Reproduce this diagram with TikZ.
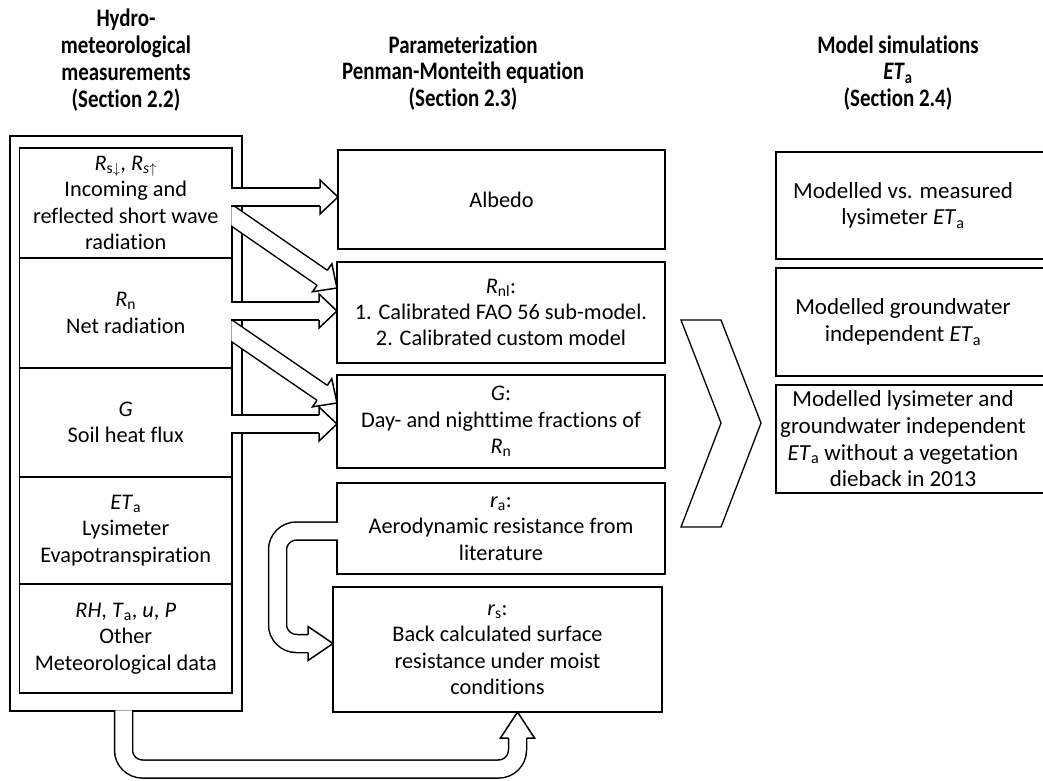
\documentclass[tikz,border=0pt]{standalone}
\usepackage{fontspec}
\usepackage{graphicx}
\setmainfont{Carlito}[RawFeature={-liga;-clig;-dlig;-calt}]
\usetikzlibrary{calc}
\newcommand\bodyfont{\fontsize{22.3}{26.4}\selectfont}
\newcommand\rightfont{\fontsize{23}{26.7}\selectfont}
\newcommand\hdrfont{\fontsize{22.5}{26.8}\selectfont\bfseries\lineskiplimit=-50pt\lineskip=0pt}
\newcommand\hln[1]{\scalebox{0.93}[1.12]{#1}}
\newcommand\va[2]{\textit{#1}\textsubscript{#2}}
\tikzset{
  box/.style={draw, line width=1.5pt, outer sep=0pt, inner sep=0pt, align=center, font=\bodyfont},
  txt/.style={align=center, font=\rightfont, inner sep=0pt, outer sep=0pt},
  hdr/.style={align=center, font=\hdrfont, inner sep=0pt},
  shaft/.style={draw=black, double=white, double distance=16.5pt, line width=1.5pt},
  headst/.style={fill=white, draw=black, line width=1.5pt, line join=miter},
  frame/.style={draw, line width=1.5pt},
}
% fat arrow: #1 tail, #2 tip
\newcommand\fatarr[2]{%
  \draw[shaft] (#1) -- ($(#2)!17pt!(#1)$);
  \filldraw[headst] ($(#2)!18pt!(#1)!9pt!90:(#2)$) -- ($(#2)!18pt!(#1)!17pt!90:(#2)$) -- (#2)
     -- ($(#2)!18pt!(#1)!17pt!-90:(#2)$) -- ($(#2)!18pt!(#1)!9pt!-90:(#2)$);
}
\begin{document}
\begin{tikzpicture}[x=1pt, y=-1pt]
\useasboundingbox (0,0) rectangle (1043,780);
\clip (0,0) rectangle (1043,780);
\fill[white] (0,0) rectangle (1043,780);

% headers
\node[hdr] (hl) at (126,60) {\hln{Hydro-}\\\hln{meteorological}\\\hln{measurements}\\\hln{(Section 2.2)}};
\node[hdr] (hm) at (463,73) {\hln{Parameterization}\\\hln{Penman-Monteith equation}\\\hln{(Section 2.3)}};
\node[hdr] (hr) at (898,73) {\hln{Model simulations}\\\hln{\textit{ET}\textsubscript{a}}\\\hln{(Section 2.4)}};

% left column
\node[box, minimum width=232pt, minimum height=575pt] (outer) at (126,423.5) {};
\node[box, minimum width=212.5pt, minimum height=110pt] (r1) at (125.75,203)
  {\va{R}{s$\downarrow$}, \va{R}{\textit{s}$\uparrow$}\\Incoming and\\reflected short wave\\radiation};
\node[box, minimum width=212.5pt, minimum height=110pt] (r2) at (125.75,313)
  {\va{R}{n}\\Net radiation};
\node[box, minimum width=212.5pt, minimum height=109pt] (r3) at (125.75,422.5)
  {\textit{G}\\Soil heat flux};
\node[box, minimum width=212.5pt, minimum height=107pt] (r4) at (125.75,530.5)
  {\va{ET}{a}\\Lysimeter\\Evapotranspiration};
\node[box, minimum width=212.5pt, minimum height=109pt] (r5) at (125.75,638.5)
  {\textit{RH}, \va{T}{a}, \textit{u}, \textit{P}\\Other\\Meteorological data};

% middle column
\node[box, minimum width=327pt, minimum height=99pt] (alb) at (501.5,199.5) {Albedo};
\node[box, minimum width=328pt, minimum height=101pt] (rnl) at (501,312.5)
  {\va{R}{nl}:\\1. Calibrated FAO 56 sub-model.\\2. Calibrated custom model};
\node[box, minimum width=328pt, minimum height=93pt] (gbx) at (501,421.5)
  {\textit{G}:\\Day- and nighttime fractions of\\\va{R}{n}};
\node[box, minimum width=328pt, minimum height=91pt] (ra) at (501,528.5)
  {\va{r}{a}:\\Aerodynamic resistance from\\literature};
\node[box, minimum width=329pt, minimum height=125pt] (rs) at (497.5,649.5)
  {\va{r}{s}:\\Back calculated surface\\resistance under moist\\conditions};

% right column
\node[txt, minimum width=254pt, minimum height=107pt] (m1) at (903,205.5)
  {Modelled vs. measured\\lysimeter \va{ET}{a}};
\node[txt, minimum width=254pt, minimum height=108pt] (m2) at (903,322)
  {Modelled groundwater\\independent \va{ET}{a}};
\node[txt, minimum width=254pt, minimum height=108pt] (m3) at (903,439)
  {Modelled lysimeter and\\groundwater independent\\\va{ET}{a} without a vegetation\\dieback in 2013};
\foreach \m in {m1,m2,m3}{
  \draw[frame] (1050,0 |- \m.north) -| (\m.south west) -- (1050,0 |- \m.south);
}

% chevron
\draw[line width=1.3pt, line join=miter] (681,320) -- (721,320) -- (761,423) -- (721,527)
  -- (681,527) -- (721,423) -- cycle;

% diagonal arrows
\coordinate (d2a) at (r1.east |- 0,215.5);
\coordinate (d2t) at (rnl.west |- 0,288);
\coordinate (d2s) at ($(d2a)!-20pt!(d2t)$);
\coordinate (d4a) at (r2.east |- 0,331);
\coordinate (d4t) at (gbx.west |- 0,403);
\coordinate (d4s) at ($(d4a)!-20pt!(d4t)$);
\begin{scope}
  \clip (231.25,0) rectangle (1043,780);
  \fatarr{d2s}{d2t}
  \fatarr{d4s}{d4t}
\end{scope}

% horizontal arrows
\coordinate (h1s) at ($(r1.east |- 0,197)+(-0.75,0)$);
\coordinate (h1t) at (alb.west |- 0,197);
\coordinate (h3s) at ($(r2.east |- 0,311)+(-0.75,0)$);
\coordinate (h3t) at (rnl.west |- 0,311);
\coordinate (h5s) at ($(r3.east |- 0,424)+(-0.75,0)$);
\coordinate (h5t) at (gbx.west |- 0,424);
\fatarr{h1s}{h1t}
\fatarr{h3s}{h3t}
\fatarr{h5s}{h5t}

% curved arrow r_a -> r_s
\coordinate (cs) at ($(ra.west |- 0,531)+(0.75,0)$);
\coordinate (ct) at (rs.west |- 0,643.5);
\draw[shaft, rounded corners=19pt] (cs) -- (277.5,531) -- (277.5,643.5) -- ($(ct)+(-24,0)$);
\filldraw[headst] ($(ct)+(-25,-9)$) -- ($(ct)+(-25,-17)$) -- (ct) -- ($(ct)+(-25,17)$) -- ($(ct)+(-25,9)$);

% U-arrow from measurements to r_s
\coordinate (us) at ($(outer.south)+(-2.5,-0.75)$);
\coordinate (ut) at ($(rs.south)+(20,0)$);
\draw[shaft, rounded corners=19pt] (us) -- (us |- 0,769) -- (ut |- 0,769) -- ($(ut)+(0,25)$);
\filldraw[headst] ($(ut)+(-9,26)$) -- ($(ut)+(-17,26)$) -- (ut) -- ($(ut)+(17,26)$) -- ($(ut)+(9,26)$);
\end{tikzpicture}
\end{document}
